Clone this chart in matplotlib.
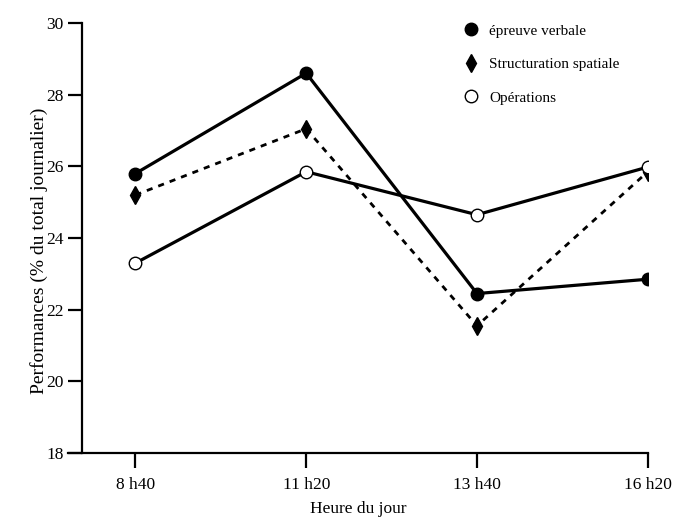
import matplotlib.pyplot as plt
from matplotlib.lines import Line2D

# données
heures = ["8 h40", "11 h20", "13 h40", "16 h20"]
verbale = [25.8, 28.6, 22.45, 22.85]
spatiale = [25.2, 27.05, 21.55, 25.85]
operations = [23.3, 25.85, 24.65, 25.98]
yticks = [18, 20, 22, 24, 26, 28, 30]

plt.rcParams['font.family'] = ['Liberation Serif', 'DejaVu Serif']

fig = plt.figure(figsize=(6.84, 5.23), dpi=100)
ax = fig.add_axes([0.0994, 0.1338, 0.8476, 0.8222])

x = list(range(len(heures)))

ax.plot(x, verbale, color='black', lw=2.3, marker='o', ms=9,
        markerfacecolor='black', markeredgecolor='black', zorder=3)
ax.plot(x, spatiale, color='black', lw=2.0, ls=(0, (2.2, 2.2)), marker='d', ms=9,
        markerfacecolor='black', markeredgecolor='black', zorder=3)
ax.plot(x, operations, color='black', lw=2.3, marker='o', ms=9,
        markerfacecolor='white', markeredgecolor='black', markeredgewidth=1.0, zorder=4)

ax.set_xlim(-0.395, 3.0)
ax.set_ylim(18, 30)

# axes
ax.spines['top'].set_visible(False)
ax.spines['right'].set_visible(False)
ax.spines['left'].set_position(('data', -0.314))
ax.spines['left'].set_linewidth(1.6)
ax.spines['bottom'].set_linewidth(1.6)

ax.set_xticks(x)
ax.set_xticklabels(heures, fontsize=12.5)
ax.set_yticks(yticks)
ax.set_yticklabels([str(v) for v in yticks], fontsize=12.5)
ax.tick_params(axis='both', direction='out', width=1.6, color='black')
ax.tick_params(axis='y', length=10, pad=3)
ax.tick_params(axis='x', length=11, pad=6)

ax.set_xlabel("Heure du jour", fontsize=12.5, labelpad=6)
ax.set_ylabel("Performances (% du total journalier)", fontsize=14)
ax.yaxis.set_label_coords(-0.035, 0.47)

# légende
handles = [
    Line2D([], [], ls='none', marker='o', ms=9, color='black'),
    Line2D([], [], ls='none', marker='d', ms=9, color='black'),
    Line2D([], [], ls='none', marker='o', ms=9, markerfacecolor='white',
           markeredgecolor='black', markeredgewidth=1.0),
]
ax.legend(handles, ["épreuve verbale", "Structuration spatiale", "Opérations"],
          loc='upper left', bbox_to_anchor=(0.655, 1.03), frameon=False,
          fontsize=11, labelspacing=1.3, handletextpad=0.6, handlelength=1.2)

fig.savefig("out.png", dpi=100)
